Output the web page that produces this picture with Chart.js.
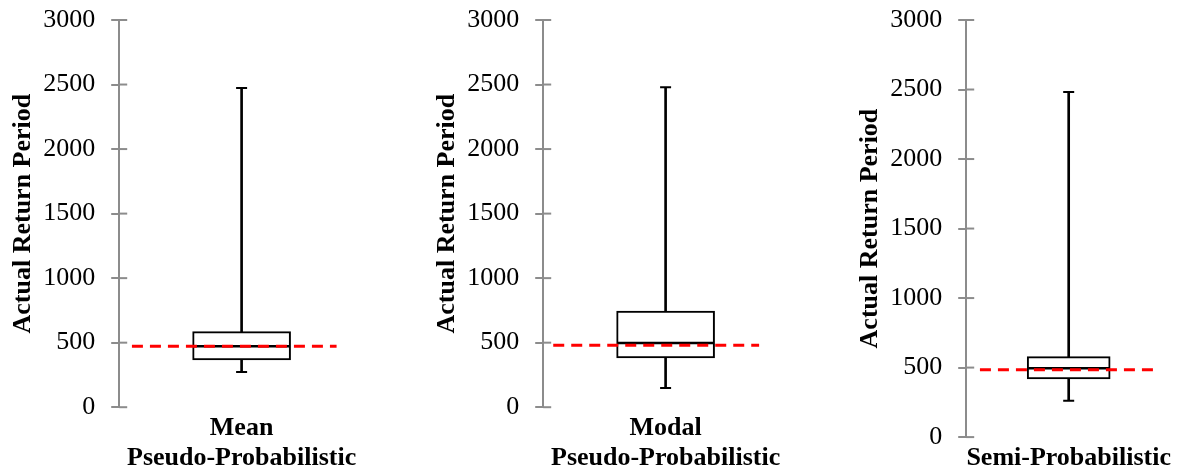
<!DOCTYPE html>
<html>
<head>
<meta charset="utf-8">
<script src="https://cdn.jsdelivr.net/npm/chart.js@4"></script>
<style>
  body { margin: 0; background: #fff; }
  .panel { position: absolute; top: 0; height: 473px; }
</style>
</head>
<body>
<div class="panel" style="left:0px;width:370px"><canvas id="c0"></canvas></div>
<div class="panel" style="left:424px;width:370px"><canvas id="c1"></canvas></div>
<div class="panel" style="left:847px;width:333px"><canvas id="c2"></canvas></div>
<script>
const categories = [
  ["Mean", "Pseudo-Probabilistic"],
  ["Modal", "Pseudo-Probabilistic"],
  "Semi-Probabilistic"
];
const whiskerMin = [272, 148, 262];
const q1 = [366, 381, 418];
const median = [472, 497, 495];
const q3 = [586, 744, 579];
const whiskerMax = [2474, 2479, 2482];
const target = [472, 480, 485];
const yMin = 0, yMax = 3000, yStep = 500;

// layout only
const boxWidth = [98, 98, 83];
const redSpan = [[0.052, 0.888], [0.041, 0.882], [0.067, 0.912]];

const serif = "'Liberation Serif', 'Times New Roman', serif";
const gray = "#8c8c8c";

// short tick stubs on the inner side of the y axis
const innerTicks = {
  id: "innerTicks",
  afterDraw(chart) {
    const y = chart.scales.y;
    const c = chart.ctx;
    c.save();
    c.strokeStyle = gray;
    c.lineWidth = 2;
    y.ticks.forEach(t => {
      const py = y.getPixelForValue(t.value);
      c.beginPath();
      c.moveTo(y.right, py);
      c.lineTo(y.right + 8, py);
      c.stroke();
    });
    c.restore();
  }
};

function makePanel(i) {
  const ctx = document.getElementById("c" + i).getContext("2d");
  return new Chart(ctx, {
    type: "bar",
    data: {
      labels: [categories[i]],
      datasets: [
        {
          type: "line",
          xAxisID: "x2",
          data: [{ x: redSpan[i][0], y: target[i] }, { x: redSpan[i][1], y: target[i] }],
          borderColor: "#ff0000",
          borderWidth: 3,
          borderDash: [11, 7],
          pointRadius: 0,
          order: 0
        },
        {
          type: "line",
          data: [median[i]],
          showLine: false,
          pointStyle: "line",
          pointRadius: boxWidth[i] / 2 - 1,
          pointBorderWidth: 2.5,
          pointBorderColor: "#000",
          order: 1
        },
        {
          type: "line",
          data: [{ x: 0, y: whiskerMin[i] }, { x: 0, y: whiskerMax[i] }],
          showLine: false,
          pointStyle: "line",
          pointRadius: 5.5,
          pointBorderWidth: 2,
          pointBorderColor: "#000",
          order: 2
        },
        {
          data: [[q1[i], q3[i]]],
          backgroundColor: "#fff",
          borderColor: "#000",
          borderWidth: 2,
          borderSkipped: false,
          barThickness: boxWidth[i],
          grouped: false,
          order: 3
        },
        {
          data: [[whiskerMin[i], whiskerMax[i]]],
          backgroundColor: "#000",
          borderWidth: 0,
          barThickness: 2,
          grouped: false,
          order: 4
        }
      ]
    },
    options: {
      responsive: true,
      maintainAspectRatio: false,
      animation: false,
      events: [],
      layout: { autoPadding: false, padding: { left: 4, right: 6, top: 4, bottom: 0 } },
      plugins: { legend: { display: false }, tooltip: { enabled: false } },
      scales: {
        x: {
          grid: { display: false, drawTicks: false },
          border: { display: false },
          ticks: {
            color: "#000",
            padding: 6,
            maxRotation: 0,
            minRotation: 0,
            autoSkip: false,
            font: { family: serif, size: 26, weight: "bold", lineHeight: 1.15 }
          },
          afterFit(s) { s.height -= 6; }
        },
        x2: { type: "linear", display: false, offset: false, min: 0, max: 1 },
        y: {
          min: yMin,
          max: yMax,
          ticks: {
            stepSize: yStep,
            color: "#000",
            padding: 16,
            font: { family: serif, size: 26 },
            callback: v => String(v)
          },
          grid: {
            drawOnChartArea: false,
            color: gray,
            lineWidth: 2,
            tickLength: 8,
            tickColor: gray,
            tickWidth: 2
          },
          border: { color: gray, width: 2 },
          title: {
            display: true,
            text: "Actual Return Period",
            color: "#000",
            font: { family: serif, size: 26, weight: "bold" }
          },
          afterFit(s) { s.width -= 16; s.paddingTop = 20; }
        }
      }
    },
    plugins: [innerTicks]
  });
}

[0, 1, 2].forEach(makePanel);
</script>
</body>
</html>
